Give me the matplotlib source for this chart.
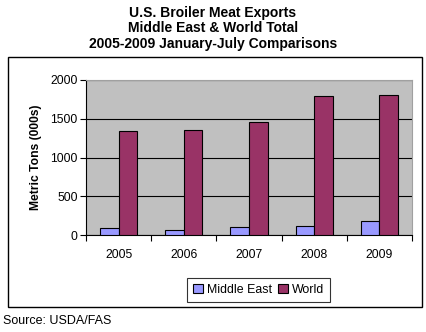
import matplotlib
matplotlib.use("Agg")
import matplotlib.pyplot as plt
from matplotlib.patches import Rectangle
import numpy as np

plt.rcParams['font.family'] = ['Liberation Sans', 'DejaVu Sans']

years = ["2005", "2006", "2007", "2008", "2009"]
middle_east = [86, 60, 99, 116, 177]
world = [1342, 1351, 1454, 1789, 1806]
yticks = [0, 500, 1000, 1500, 2000]

W, H = 427, 332
fig = plt.figure(figsize=(W / 100, H / 100), dpi=100)

# outer chart frame
fig.patches.append(Rectangle((8 / W, 1 - 306.5 / H), 414 / W, 249.5 / H,
                             transform=fig.transFigure, fill=False,
                             edgecolor='black', linewidth=1.0))

ax = fig.add_axes([86 / W, 1 - 235 / H, 326 / W, 155 / H])
ax.set_facecolor('#C0C0C0')

x = np.arange(len(years))
bw = 0.285
ax.bar(x - bw / 2, middle_east, bw, color='#9999FF', edgecolor='black',
       linewidth=0.8, label='Middle East', zorder=3)
ax.bar(x + bw / 2, world, bw, color='#993366', edgecolor='black',
       linewidth=0.8, label='World', zorder=3)

ax.set_xlim(-0.5, len(years) - 0.5)
ax.set_ylim(0, 2000)
ax.set_yticks(yticks)
ax.set_yticklabels([str(v) for v in yticks], fontsize=8.7)
ax.yaxis.grid(True, color='black', linewidth=0.8, zorder=1)
ax.set_axisbelow(True)

ax.set_xticks(x)
ax.set_xticklabels(years, fontsize=8.7)
ax.set_xticks(np.arange(-0.5, len(years)), minor=True)
ax.tick_params(axis='x', which='major', length=0, pad=10)
ax.tick_params(axis='x', which='minor', length=4, direction='out', width=0.8)
ax.tick_params(axis='y', length=4, direction='out', width=0.8, pad=2)

for s in ['top', 'right']:
    ax.spines[s].set_color('#A0A0A0')
    ax.spines[s].set_linewidth(0.8)
for s in ['left', 'bottom']:
    ax.spines[s].set_color('black')
    ax.spines[s].set_linewidth(0.8)

ax.set_ylabel('Metric Tons (000s)', fontsize=8.7, fontweight='bold', labelpad=6)

fig.text(213 / W, 1 - 13 / H, 'U.S. Broiler Meat Exports', ha='center',
         va='center', fontsize=10, fontweight='bold')
fig.text(213 / W, 1 - 28 / H, 'Middle East & World Total', ha='center',
         va='center', fontsize=10, fontweight='bold')
fig.text(213 / W, 1 - 44 / H, '2005-2009 January-July Comparisons', ha='center',
         va='center', fontsize=10, fontweight='bold')

leg = fig.legend(loc='center', bbox_to_anchor=(258.5 / W, 1 - 290 / H), ncol=2,
                 fontsize=8.9, frameon=True, fancybox=False, edgecolor='black',
                 handlelength=0.8, handleheight=0.8, handletextpad=0.3,
                 columnspacing=0.5, borderpad=0.5, borderaxespad=0)
leg.get_frame().set_linewidth(0.8)

fig.text(3 / W, 1 - 321 / H, 'Source: USDA/FAS', ha='left', va='center',
         fontsize=9)

fig.savefig('out.png', dpi=100)
